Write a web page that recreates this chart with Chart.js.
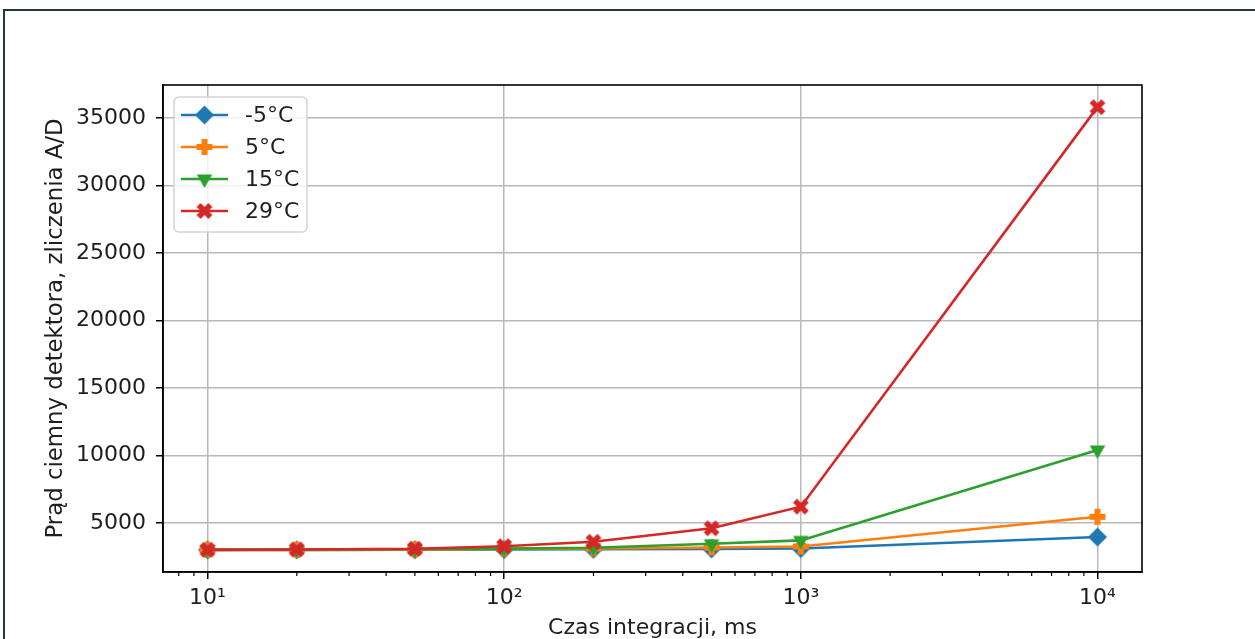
<!DOCTYPE html>
<html>
<head>
<meta charset="utf-8">
<script src="https://cdn.jsdelivr.net/npm/chart.js@4.4.1/dist/chart.umd.min.js"></script>
<style>
  html, body { margin: 0; padding: 0; background: #ffffff; overflow: hidden; }
  #frame {
    position: absolute; left: 3px; top: 9px; width: 1400px; height: 800px;
    border-top: 2px solid #24363f; border-left: 2px solid #24363f;
  }
  #wrap { position: absolute; left: 0; top: 0; width: 1255px; height: 641px; }
</style>
</head>
<body>
<div id="frame"></div>
<div id="wrap"><canvas id="chart" width="1255" height="641"></canvas></div>
<script>
// Integration times (ms) and dark-current readings (A/D counts) per sensor temperature
const times = [10, 20, 50, 100, 200, 500, 1000, 10000];
const tempLabels = ['-5°C', '5°C', '15°C', '29°C'];
const countsMinus5 = [3000, 3000, 3010, 3030, 3040, 3070, 3100, 3950];
const counts5 = [3000, 3000, 3020, 3060, 3100, 3180, 3250, 5450];
const counts15 = [3010, 3010, 3040, 3090, 3160, 3450, 3700, 10400];
const counts29 = [3000, 3030, 3080, 3270, 3600, 4600, 6200, 35800];
const xTickValues = [10, 100, 1000, 10000];
const yTickValues = [5000, 10000, 15000, 20000, 25000, 30000, 35000];

const colors = ['#1f77b4', '#ff7f0e', '#2ca02c', '#d62728'];
const markerKinds = ['diamond', 'plus', 'triDown', 'cross'];
const allSeries = [countsMinus5, counts5, counts15, counts29];

const FONT = { family: "'DejaVu Sans', sans-serif", size: 22 };
const TITLE_FONT_Y = { family: "'DejaVu Sans', sans-serif", size: 22.8 };
const TEXT = '#1e1e1e';

// Filled marker glyphs drawn once on small canvases and reused as point styles
function markerCanvas(kind, color) {
  const size = 24;
  const c = document.createElement('canvas');
  c.width = size; c.height = size;
  const g = c.getContext('2d');
  g.translate(size / 2, size / 2);
  g.fillStyle = color;
  g.beginPath();
  if (kind === 'diamond') {
    const r = 9.5;
    g.moveTo(0, -r); g.lineTo(r, 0); g.lineTo(0, r); g.lineTo(-r, 0);
  } else if (kind === 'plus') {
    const a = 8, t = 3;
    const pts = [[-t,-a],[t,-a],[t,-t],[a,-t],[a,t],[t,t],[t,a],[-t,a],[-t,t],[-a,t],[-a,-t],[-t,-t]];
    pts.forEach((p, i) => i ? g.lineTo(p[0], p[1]) : g.moveTo(p[0], p[1]));
  } else if (kind === 'triDown') {
    const r = 9;
    g.moveTo(0, r);
    g.lineTo(-r * Math.sqrt(3) / 2, -r / 2);
    g.lineTo(r * Math.sqrt(3) / 2, -r / 2);
  } else {
    const a = 8.4, t = 2.8;
    g.rotate(Math.PI / 4);
    const pts = [[-t,-a],[t,-a],[t,-t],[a,-t],[a,t],[t,t],[t,a],[-t,a],[-t,t],[-a,t],[-a,-t],[-t,-t]];
    pts.forEach((p, i) => i ? g.lineTo(p[0], p[1]) : g.moveTo(p[0], p[1]));
  }
  g.closePath();
  g.fill();
  return c;
}

// Axis limits padded by 5% of the data span (log span for the x axis)
const allValues = allSeries.flat();
const yLo = Math.min(...allValues), yHi = Math.max(...allValues);
const yMin = yLo - 0.05 * (yHi - yLo);
const yMax = yHi + 0.05 * (yHi - yLo);
const lx0 = Math.log10(Math.min(...times)), lx1 = Math.log10(Math.max(...times));
const xMin = Math.pow(10, lx0 - 0.05 * (lx1 - lx0));
const xMax = Math.pow(10, lx1 + 0.05 * (lx1 - lx0));

const SUP = { '0': '⁰', '1': '¹', '2': '²', '3': '³', '4': '⁴', '5': '⁵' };

const datasets = allSeries.map((vals, i) => ({
  label: tempLabels[i],
  data: times.map((t, k) => ({ x: t, y: vals[k] })),
  borderColor: colors[i],
  backgroundColor: colors[i],
  borderWidth: 2.6,
  pointStyle: markerCanvas(markerKinds[i], colors[i]),
  pointRadius: 8,
  pointHoverRadius: 8,
  tension: 0,
  order: allSeries.length - i
}));

// Minor log ticks, top/right spines and the boxed legend
const decorations = {
  id: 'decorations',
  afterDraw(chart) {
    const { ctx, chartArea: a, scales: { x } } = chart;
    ctx.save();
    // minor ticks on the log axis
    ctx.strokeStyle = '#000';
    ctx.lineWidth = 1.2;
    for (let d = 0; d <= 4; d++) {
      for (let m = 2; m <= 9; m++) {
        const v = m * Math.pow(10, d);
        if (v < x.min || v > x.max) continue;
        const px = x.getPixelForValue(v);
        ctx.beginPath();
        ctx.moveTo(px, a.bottom);
        ctx.lineTo(px, a.bottom + 4);
        ctx.stroke();
      }
    }
    // frame around the plot
    ctx.lineWidth = 1.6;
    ctx.strokeRect(a.left, a.top, a.right - a.left, a.bottom - a.top);

    // legend
    const bx = a.left + 11, by = a.top + 12, bw = 133, bh = 135;
    ctx.beginPath();
    ctx.roundRect(bx, by, bw, bh, 5);
    ctx.fillStyle = 'rgba(255,255,255,0.8)';
    ctx.fill();
    ctx.strokeStyle = '#d4d4d4';
    ctx.lineWidth = 1.5;
    ctx.stroke();
    ctx.font = `${FONT.size}px ${FONT.family}`;
    ctx.textBaseline = 'middle';
    ctx.textAlign = 'left';
    chart.data.datasets.forEach((ds, i) => {
      const y = by + 18 + i * 32;
      ctx.strokeStyle = ds.borderColor;
      ctx.lineWidth = ds.borderWidth;
      ctx.beginPath();
      ctx.moveTo(bx + 7, y);
      ctx.lineTo(bx + 54, y);
      ctx.stroke();
      const img = ds.pointStyle;
      ctx.drawImage(img, bx + 30.5 - img.width / 2, y - img.height / 2);
      ctx.fillStyle = TEXT;
      ctx.fillText(ds.label, bx + 71, y + 1);
    });
    ctx.restore();
  }
};

new Chart(document.getElementById('chart'), {
  type: 'line',
  data: { datasets },
  options: {
    responsive: false,
    animation: false,
    devicePixelRatio: 1,
    layout: { padding: { left: 42, top: 85, right: 113, bottom: 0 } },
    plugins: { legend: { display: false }, tooltip: { enabled: false } },
    scales: {
      x: {
        type: 'logarithmic',
        min: xMin,
        max: xMax,
        afterBuildTicks: s => { s.ticks = xTickValues.map(v => ({ value: v })); },
        afterFit: s => { s.height = 69; },
        ticks: {
          autoSkip: false, maxRotation: 0, padding: 6,
          font: FONT, color: TEXT,
          callback: v => '10' + String(Math.round(Math.log10(v))).split('').map(c => SUP[c]).join('')
        },
        grid: { color: '#b8b8b8', lineWidth: 1.5, tickColor: '#000', tickLength: 7, tickWidth: 1.5 },
        border: { color: '#000', width: 1.6 },
        title: { display: true, text: 'Czas integracji, ms', font: FONT, color: TEXT, padding: { top: 0, bottom: 0 } }
      },
      y: {
        type: 'linear',
        min: yMin,
        max: yMax,
        afterBuildTicks: s => { s.ticks = yTickValues.map(v => ({ value: v })); },
        afterFit: s => { s.width = 121; },
        ticks: { padding: 10, font: FONT, color: TEXT, callback: v => String(v) },
        grid: { color: '#b8b8b8', lineWidth: 1.5, tickColor: '#000', tickLength: 7, tickWidth: 1.5 },
        border: { color: '#000', width: 1.6 },
        title: { display: true, text: 'Prąd ciemny detektora, zliczenia A/D', font: TITLE_FONT_Y, color: TEXT, padding: { top: 0, bottom: 0 } }
      }
    }
  },
  plugins: [decorations]
});
</script>
</body>
</html>
